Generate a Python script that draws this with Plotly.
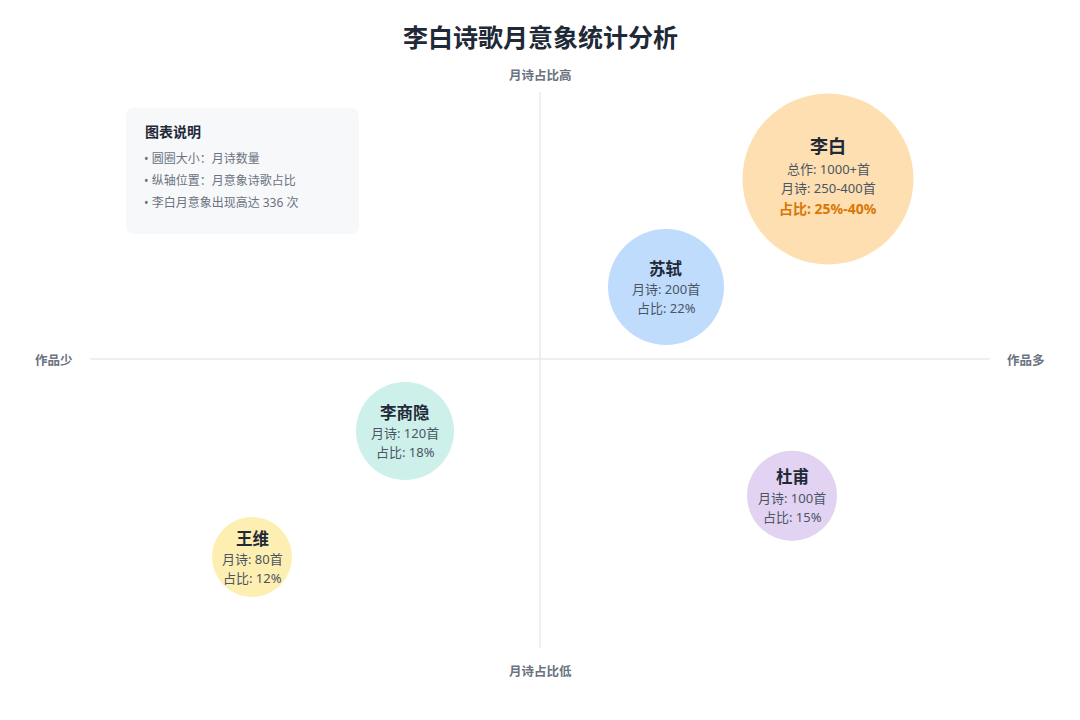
import plotly.graph_objects as go

# ---- data ----
poets = ["李白", "苏轼", "李商隐", "杜甫", "王维"]
works_axis = [64, 28, -30, 56, -64]        # 作品量 (quadrant scale)
ratio_axis = [50, 20, -20, -38, -55]       # 月诗占比 (quadrant scale)
detail_lines = [
    ["总作: 1000+首", "月诗: 250-400首"],
    ["月诗: 200首", "占比: 22%"],
    ["月诗: 120首", "占比: 18%"],
    ["月诗: 100首", "占比: 15%"],
    ["月诗: 80首", "占比: 12%"],
]
highlight = ["占比: 25%-40%", None, None, None, None]
legend_title = "图表说明"
legend_items = ["圆圈大小：月诗数量", "纵轴位置：月意象诗歌占比", "李白月意象出现高达 336 次"]

# ---- styles ----
diam = [171, 116, 98, 90, 80]
colors = ["#FDDFB1", "#BFDCFD", "#CDF0EA", "#E3D3F3", "#FDEEB1"]
FONT = "Noto Sans, Noto Sans CJK SC, sans-serif"
W, H = 1080, 720

fig = go.Figure()
fig.add_trace(go.Scatter(
    x=works_axis, y=ratio_axis, mode="markers",
    marker=dict(size=diam, color=colors, line=dict(width=0), opacity=1),
    hoverinfo="skip", showlegend=False,
))

ann = []
for i, p in enumerate(poets):
    big = i == 0
    ann.append(dict(x=works_axis[i], y=ratio_axis[i], xref="x", yref="y", text=f"<b>{p}</b>",
                    showarrow=False, yshift=(33 if big else 19),
                    font=dict(size=(18 if big else 16.5), color="#1f2937", family=FONT)))
    offs = [10, -9] if big else [-2, -21]
    for j, t in enumerate(detail_lines[i]):
        ann.append(dict(x=works_axis[i], y=ratio_axis[i], xref="x", yref="y", text=t,
                        showarrow=False, yshift=offs[j],
                        font=dict(size=13, color="#4b5563", family=FONT)))
    if highlight[i]:
        ann.append(dict(x=works_axis[i], y=ratio_axis[i], xref="x", yref="y",
                        text=f"<b>{highlight[i]}</b>", showarrow=False, yshift=-29,
                        font=dict(size=14, color="#d97706", family=FONT)))

def px(xp): return xp / W
def py(yp): return 1 - yp / H

C = dict(xanchor="center", yanchor="middle", showarrow=False, xref="paper", yref="paper")
# title
ann.append(dict(x=0.5, y=py(37), text="<b>李白诗歌月意象统计分析</b>",
                font=dict(size=25, color="#1f2937", family=FONT), **C))
# axis labels
lab_font = dict(size=12.5, color="#6b7280", family=FONT)
ann += [
    dict(x=0.5, y=py(76), text="<b>月诗占比高</b>", font=lab_font, **C),
    dict(x=0.5, y=py(671), text="<b>月诗占比低</b>", font=lab_font, **C),
    dict(x=px(54), y=py(360), text="<b>作品少</b>", font=lab_font, **C),
    dict(x=px(1026), y=py(360), text="<b>作品多</b>", font=lab_font, **C),
]
# legend box text
L = dict(xanchor="left", yanchor="middle", showarrow=False, xref="paper", yref="paper")
ann.append(dict(x=px(143), y=py(131), text=f"<b>{legend_title}</b>",
                font=dict(size=14, color="#1f2937", family=FONT), **L))
for k, t in enumerate(legend_items):
    ann.append(dict(x=px(142), y=py(158 + 22 * k), text="• " + t,
                    font=dict(size=12, color="#6b7280", family=FONT), **L))

# rounded legend box path (paper coords)
x0, x1, y0, y1, r = 126, 359, 108, 234, 8
def P(x, y): return f"{px(x):.5f},{py(y):.5f}"
path = (f"M {P(x0 + r, y0)} L {P(x1 - r, y0)} Q {P(x1, y0)} {P(x1, y0 + r)} "
        f"L {P(x1, y1 - r)} Q {P(x1, y1)} {P(x1 - r, y1)} L {P(x0 + r, y1)} "
        f"Q {P(x0, y1)} {P(x0, y1 - r)} L {P(x0, y0 + r)} Q {P(x0, y0)} {P(x0 + r, y0)} Z")

shapes = [
    dict(type="line", xref="paper", yref="paper", x0=px(90), x1=px(990), y0=py(359), y1=py(359),
         line=dict(color="#e8eaee", width=1.5), layer="below"),
    dict(type="line", xref="paper", yref="paper", x0=px(540), x1=px(540), y0=py(92), y1=py(648),
         line=dict(color="#e8eaee", width=1.5), layer="below"),
    dict(type="path", xref="paper", yref="paper", path=path, fillcolor="#f6f8fa",
         line=dict(width=0), layer="below"),
]

fig.update_layout(
    width=W, height=H, margin=dict(l=0, r=0, t=0, b=0),
    paper_bgcolor="white", plot_bgcolor="white",
    xaxis=dict(range=[-120, 120], visible=False, fixedrange=True),
    yaxis=dict(range=[-361 / 3.6, 359 / 3.6], visible=False, fixedrange=True),
    annotations=ann, shapes=shapes, showlegend=False,
    font=dict(family=FONT),
)
fig.write_html("out.html", config={"displayModeBar": False},
               post_script="document.body.style.margin='0';document.body.style.overflow='hidden';")
